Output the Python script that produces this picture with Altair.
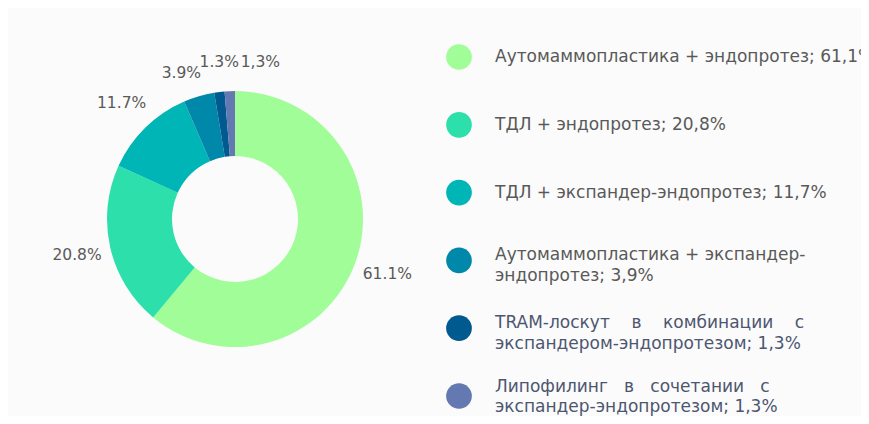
import altair as alt
import pandas as pd

categories = [
    "Аутомаммопластика + эндопротез; 61,1%",
    "ТДЛ + эндопротез; 20,8%",
    "ТДЛ + экспандер-эндопротез; 11,7%",
    "Аутомаммопластика + экспандер-\nэндопротез; 3,9%",
    "TRAM-лоскут\u00a0\u00a0\u00a0\u00a0в\u00a0\u00a0\u00a0\u00a0комбинации\u00a0\u00a0\u00a0\u00a0с\nэкспандером-эндопротезом; 1,3%",
    "Липофилинг\u00a0\u00a0\u00a0в\u00a0\u00a0\u00a0сочетании\u00a0\u00a0\u00a0с\nэкспандер-эндопротезом; 1,3%",
]
values = [61.1, 20.8, 11.7, 3.9, 1.3, 1.3]
pie_labels = ["61.1%", "20.8%", "11.7%", "3.9%", "1.3%", "1,3%"]
colors = ["#a0fd97", "#2de0ab", "#00b5b5", "#0088ab", "#005a8f", "#6478b2"]

df = pd.DataFrame({
    "idx": list(range(len(values))),
    "cat": categories,
    "value": values,
    "lab": pie_labels,
})

CX, CY = 227, 211
FONT = "DejaVu Sans"

base = alt.Chart(df).encode(
    theta=alt.Theta("value:Q", stack=True),
    order=alt.Order("idx:Q"),
)

color_enc = alt.Color("cat:N", scale=alt.Scale(domain=categories, range=colors), legend=None)

arcs = base.mark_arc(innerRadius=63, outerRadius=128, stroke=None).encode(
    color=color_enc,
    x=alt.value(CX),
    y=alt.value(CY),
)


def label_layer(cond, dx=0, dy=0):
    return base.transform_calculate(
        t=f"({cond}) ? datum.lab : ''"
    ).mark_text(
        radius=162, font=FONT, fontSize=15.5, color="#595959",
        align="center", baseline="middle", dx=dx, dy=dy,
    ).encode(
        text="t:N",
        x=alt.value(CX),
        y=alt.value(CY),
    )


labels_main = label_layer("datum.idx < 3")
label_39 = label_layer("datum.idx == 3", dx=-8, dy=9)
label_13a = label_layer("datum.idx == 4", dx=4, dy=4)
label_13b = label_layer("datum.idx == 5", dx=32, dy=5)

y_leg = alt.Y("cat:N", scale=alt.Scale(domain=categories, range=[49, 388], padding=0), axis=None)

leg_points = alt.Chart(df).mark_point(filled=True, shape="circle", size=660, opacity=1).encode(
    x=alt.value(451),
    y=y_leg,
    color=color_enc,
)


def leg_text_layer(cond, dy, lh):
    return alt.Chart(df).transform_filter(cond).mark_text(
        font=FONT, fontSize=17, align="left", baseline="middle", lineBreak="\n",
        lineHeight=lh, dy=dy,
    ).encode(
        x=alt.value(487),
        y=y_leg,
        text="cat:N",
        color=alt.condition("datum.idx >= 4", alt.value("#4d5670"), alt.value("#595959")),
    )


leg_single = leg_text_layer("datum.idx < 3", 0, 21)
leg_multi = leg_text_layer("datum.idx == 3 || datum.idx == 4", -5, 21)
leg_last = leg_text_layer("datum.idx == 5", -9, 20)

chart = alt.layer(
    arcs, labels_main, label_39, label_13a, label_13b, leg_points, leg_single, leg_multi, leg_last
).properties(
    width=853, height=408, background="#fbfbfb", padding=0,
    autosize=alt.AutoSizeParams(type="none"),
).configure_view(stroke=None)

chart.save("out.html", embed_options={"renderer": "svg", "actions": False})
